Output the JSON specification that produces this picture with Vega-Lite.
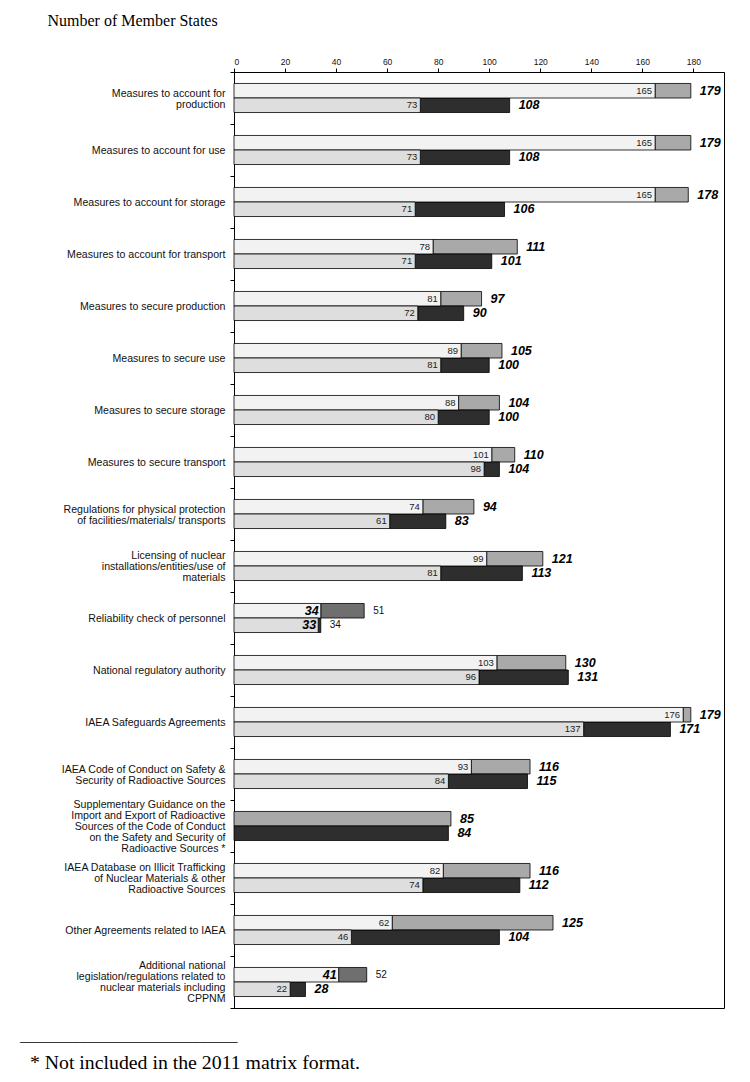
{
  "$schema": "https://vega.github.io/schema/vega-lite/v6.json",
  "autosize": {"type": "none"},
  "padding": {"left": 234, "top": 72, "right": 26, "bottom": 74},
  "width": 490,
  "height": 936,
  "background": "#ffffff",
  "title": {
    "text": "_____________________________",
    "subtitle": "\u200b\u2002* Not included in the 2011 matrix format.",
    "orient": "bottom",
    "anchor": "start",
    "frame": "group",
    "dx": -214,
    "offset": 20,
    "font": "Liberation Serif",
    "fontSize": 15,
    "fontWeight": "normal",
    "color": "#000000",
    "subtitleFont": "Liberation Serif",
    "subtitleFontSize": 19.8,
    "subtitleColor": "#000000",
    "subtitlePadding": 9
  },
  "data": {
    "values": [
      {"category": "Measures to account for|production", "row": "upper", "base": 165, "total": 179},
      {"category": "Measures to account for|production", "row": "lower", "base": 73, "total": 108},
      {"category": "Measures to account for use", "row": "upper", "base": 165, "total": 179},
      {"category": "Measures to account for use", "row": "lower", "base": 73, "total": 108},
      {"category": "Measures to account for storage", "row": "upper", "base": 165, "total": 178},
      {"category": "Measures to account for storage", "row": "lower", "base": 71, "total": 106},
      {"category": "Measures to account for transport", "row": "upper", "base": 78, "total": 111},
      {"category": "Measures to account for transport", "row": "lower", "base": 71, "total": 101},
      {"category": "Measures to secure production", "row": "upper", "base": 81, "total": 97},
      {"category": "Measures to secure production", "row": "lower", "base": 72, "total": 90},
      {"category": "Measures to secure use", "row": "upper", "base": 89, "total": 105},
      {"category": "Measures to secure use", "row": "lower", "base": 81, "total": 100},
      {"category": "Measures to secure storage", "row": "upper", "base": 88, "total": 104},
      {"category": "Measures to secure storage", "row": "lower", "base": 80, "total": 100},
      {"category": "Measures to secure transport", "row": "upper", "base": 101, "total": 110},
      {"category": "Measures to secure transport", "row": "lower", "base": 98, "total": 104},
      {"category": "Regulations for physical protection|of facilities/materials/ transports", "row": "upper", "base": 74, "total": 94},
      {"category": "Regulations for physical protection|of facilities/materials/ transports", "row": "lower", "base": 61, "total": 83},
      {"category": "Licensing of nuclear|installations/entities/use of|materials", "row": "upper", "base": 99, "total": 121},
      {"category": "Licensing of nuclear|installations/entities/use of|materials", "row": "lower", "base": 81, "total": 113},
      {"category": "Reliability check of personnel", "row": "upper", "base": 34, "total": 51},
      {"category": "Reliability check of personnel", "row": "lower", "base": 33, "total": 34},
      {"category": "National regulatory authority", "row": "upper", "base": 103, "total": 130},
      {"category": "National regulatory authority", "row": "lower", "base": 96, "total": 131},
      {"category": "IAEA Safeguards Agreements", "row": "upper", "base": 176, "total": 179},
      {"category": "IAEA Safeguards Agreements", "row": "lower", "base": 137, "total": 171},
      {"category": "IAEA Code of Conduct on Safety &|Security of Radioactive Sources", "row": "upper", "base": 93, "total": 116},
      {"category": "IAEA Code of Conduct on Safety &|Security of Radioactive Sources", "row": "lower", "base": 84, "total": 115},
      {"category": "Supplementary Guidance on the|Import and Export of Radioactive|Sources of the Code of Conduct|on the Safety and Security of|Radioactive Sources *", "row": "upper", "base": 0, "total": 85},
      {"category": "Supplementary Guidance on the|Import and Export of Radioactive|Sources of the Code of Conduct|on the Safety and Security of|Radioactive Sources *", "row": "lower", "base": 0, "total": 84},
      {"category": "IAEA Database on Illicit Trafficking|of Nuclear Materials & other|Radioactive Sources", "row": "upper", "base": 82, "total": 116},
      {"category": "IAEA Database on Illicit Trafficking|of Nuclear Materials & other|Radioactive Sources", "row": "lower", "base": 74, "total": 112},
      {"category": "Other Agreements related to IAEA", "row": "upper", "base": 62, "total": 125},
      {"category": "Other Agreements related to IAEA", "row": "lower", "base": 46, "total": 104},
      {"category": "Additional national|legislation/regulations related to|nuclear materials including|CPPNM", "row": "upper", "base": 41, "total": 52},
      {"category": "Additional national|legislation/regulations related to|nuclear materials including|CPPNM", "row": "lower", "base": 22, "total": 28}
    ]
  },
  "encoding": {
    "x": {
      "field": "base",
      "type": "quantitative",
      "scale": {"domain": [0, 192], "nice": false, "zero": true},
      "axis": {
        "orient": "top",
        "values": [0, 10, 20, 30, 40, 50, 60, 70, 80, 90, 100, 110, 120, 130, 140, 150, 160, 170, 180, 190],
        "tickCount": 19,
        "grid": false,
        "labelOverlap": false,
        "labelBound": false,
        "tickSize": 4,
        "labelFont": "Liberation Sans",
        "labelFontSize": 8.5,
        "labelColor": "#111111",
        "labelPadding": 2,
        "title": "Number of Member States",
        "titleFont": "Liberation Serif",
        "titleFontSize": 16,
        "titleFontWeight": "normal",
        "titleColor": "#000000",
        "titleX": -187,
        "titleY": -47,
        "titleAlign": "left",
        "titleBaseline": "alphabetic"
      }
    },
    "y": {
      "field": "category",
      "type": "nominal",
      "sort": null,
      "scale": {"paddingInner": 0, "paddingOuter": 0},
      "axis": {
        "title": null,
        "labelExpr": "split(datum.label, '|')",
        "labelAlign": "right",
        "labelBaseline": "middle",
        "labelPadding": 5,
        "labelFont": "Liberation Sans",
        "labelFontSize": 10.6,
        "labelLineHeight": 11,
        "labelColor": "#111111",
        "labelLimit": 240,
        "ticks": true,
        "tickBand": "extent",
        "tickSize": 4,
        "tickColor": "#000000",
        "domain": true,
        "domainColor": "#000000",
        "labelOverlap": false,
        "labelOffset": {
          "condition": [
            {"test": "length(split(datum.value, '|')) == 2", "value": -5},
            {"test": "length(split(datum.value, '|')) == 3", "value": -11},
            {"test": "length(split(datum.value, '|')) == 4", "value": -16.5},
            {"test": "length(split(datum.value, '|')) == 5", "value": -22}
          ],
          "value": 0
        }
      }
    },
    "yOffset": {
      "field": "row",
      "type": "nominal",
      "sort": ["upper", "lower"],
      "scale": {"paddingInner": 0, "paddingOuter": 0.79}
    }
  },
  "layer": [
    {
      "mark": {"type": "bar", "stroke": "#000000", "strokeWidth": 0.8},
      "encoding": {
        "x2": {"field": "total"},
        "fill": {
          "condition": [
            {"test": "datum.row == 'upper' && (datum.category == 'Reliability check of personnel' || indexof(datum.category, 'Additional national') == 0)", "value": "#6f6f6f"},
            {"test": "datum.row == 'upper'", "value": "#a9a9a9"}
          ],
          "value": "#2e2e2e"
        }
      }
    },
    {
      "transform": [{"filter": "datum.base > 0"}],
      "mark": {"type": "bar", "stroke": "#000000", "strokeWidth": 0.8},
      "encoding": {
        "fill": {
          "condition": {"test": "datum.row == 'upper'", "value": "#f2f2f2"},
          "value": "#dedede"
        }
      }
    },
    {
      "transform": [{"filter": "datum.base > 0 && !(datum.category == 'Reliability check of personnel' || (indexof(datum.category, 'Additional national') == 0 && datum.row == 'upper'))"}],
      "mark": {"type": "text", "align": "right", "baseline": "middle", "dx": -3, "font": "Liberation Sans", "fontSize": 9.5, "color": "#222222"},
      "encoding": {
        "text": {"field": "base", "type": "quantitative"}
      }
    },
    {
      "transform": [{"filter": "datum.category == 'Reliability check of personnel' || (indexof(datum.category, 'Additional national') == 0 && datum.row == 'upper')"}],
      "mark": {"type": "text", "align": "right", "baseline": "middle", "dx": -2, "font": "Liberation Sans", "fontSize": 12.5, "fontWeight": "bold", "fontStyle": "italic", "color": "#000000"},
      "encoding": {
        "text": {"field": "base", "type": "quantitative"}
      }
    },
    {
      "transform": [{"filter": "!(datum.category == 'Reliability check of personnel' || (indexof(datum.category, 'Additional national') == 0 && datum.row == 'upper'))"}],
      "mark": {"type": "text", "align": "left", "baseline": "middle", "dx": 9, "font": "Liberation Sans", "fontSize": 12.5, "fontWeight": "bold", "fontStyle": "italic", "color": "#000000"},
      "encoding": {
        "x": {
          "field": "total",
          "type": "quantitative",
          "axis": {
            "orient": "top",
            "values": [0, 10, 20, 30, 40, 50, 60, 70, 80, 90, 100, 110, 120, 130, 140, 150, 160, 170, 180, 190],
            "tickCount": 19,
            "grid": false,
            "labelOverlap": false,
            "labelBound": false,
            "tickSize": 4,
            "labelFont": "Liberation Sans",
            "labelFontSize": 8.5,
            "labelColor": "#111111",
            "labelPadding": 2,
            "title": "Number of Member States",
            "titleFont": "Liberation Serif",
            "titleFontSize": 16,
            "titleFontWeight": "normal",
            "titleColor": "#000000",
            "titleX": -187,
            "titleY": -47,
            "titleAlign": "left",
            "titleBaseline": "alphabetic"
          }
        },
        "text": {"field": "total", "type": "quantitative"}
      }
    },
    {
      "transform": [{"filter": "datum.category == 'Reliability check of personnel' || (indexof(datum.category, 'Additional national') == 0 && datum.row == 'upper')"}],
      "mark": {"type": "text", "align": "left", "baseline": "middle", "dx": 9, "font": "Liberation Sans", "fontSize": 10, "color": "#111111"},
      "encoding": {
        "x": {
          "field": "total",
          "type": "quantitative",
          "axis": {
            "orient": "top",
            "values": [0, 10, 20, 30, 40, 50, 60, 70, 80, 90, 100, 110, 120, 130, 140, 150, 160, 170, 180, 190],
            "tickCount": 19,
            "grid": false,
            "labelOverlap": false,
            "labelBound": false,
            "tickSize": 4,
            "labelFont": "Liberation Sans",
            "labelFontSize": 8.5,
            "labelColor": "#111111",
            "labelPadding": 2,
            "title": "Number of Member States",
            "titleFont": "Liberation Serif",
            "titleFontSize": 16,
            "titleFontWeight": "normal",
            "titleColor": "#000000",
            "titleX": -187,
            "titleY": -47,
            "titleAlign": "left",
            "titleBaseline": "alphabetic"
          }
        },
        "text": {"field": "total", "type": "quantitative"}
      }
    }
  ],
  "config": {
    "view": {"stroke": "#000000", "strokeWidth": 1},
    "axis": {"domainColor": "#000000", "tickColor": "#000000"}
  }
}
